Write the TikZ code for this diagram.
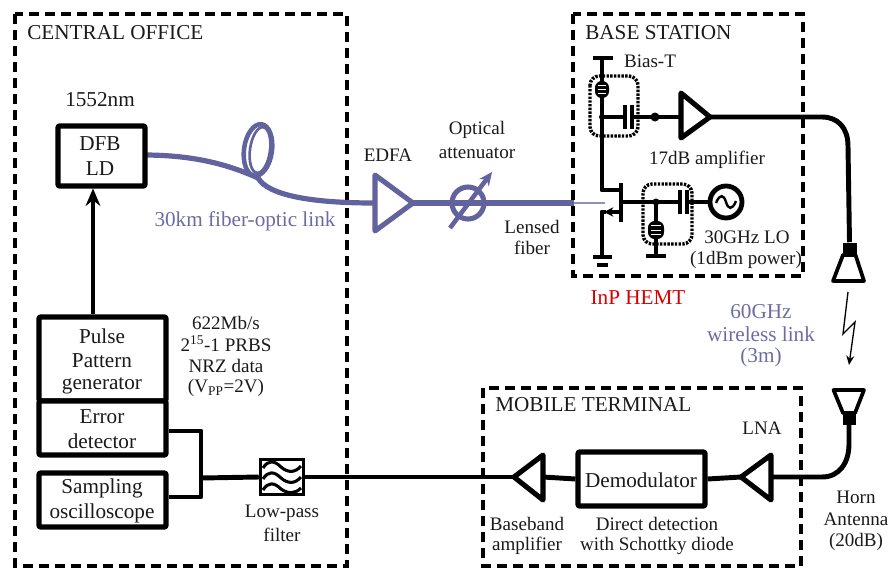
\documentclass[tikz,border=0pt]{standalone}
\usepackage{fontspec}
\setmainfont{Liberation Serif}
\usetikzlibrary{arrows.meta,calc}
\definecolor{fib}{HTML}{62629E}
\definecolor{fibt}{HTML}{6C6CA2}
\definecolor{ink}{HTML}{1A1A1A}
\tikzset{
 x=0.75pt,y=-0.75pt,
 zone/.style={draw=black,line width=2.8pt,dash pattern=on 7.5pt off 4.5pt},
 blk/.style={draw=black,line width=3.8pt,line join=round,fill=white,rounded corners=0.8pt,inner sep=0pt},
 wire/.style={draw=black,line width=3.7pt,line join=round},
 thin wire/.style={draw=black,line width=2.3pt,line join=round},
 fiber/.style={draw=fib,line width=3.9pt,line cap=round},
 dots/.style={draw=black,line width=2.6pt,dash pattern=on 1.8pt off 1pt,rounded corners=7pt},
 lab/.style={font=\fontsize{14.3}{16}\selectfont,text=ink,inner sep=0pt,anchor=center},
 blab/.style={font=\fontsize{15.9}{18}\selectfont,text=ink,inner sep=0pt,anchor=center},
 head/.style={font=\fontsize{15.9}{18}\selectfont,text=ink,inner sep=0pt,anchor=west},
 flab/.style={font=\fontsize{15.9}{18}\selectfont,text=fibt,inner sep=0pt,anchor=center},
 amp/.style={draw=black,line width=3.8pt,line join=round,fill=white},
 term/.style={inner sep=0pt,minimum size=0pt},
}
\begin{document}
\begin{tikzpicture}
\useasboundingbox (0,0) rectangle (889,568);
% zones
\node[term] (coTL) at (15,14) {}; \node[term] (coBR) at (347,566) {};
\node[term] (bsTL) at (573,14) {}; \node[term] (bsBR) at (803,276) {};
\node[term] (mtTL) at (483,388) {}; \node[term] (mtBR) at (801,566) {};
\draw[zone] (coTL) rectangle (coBR);
\draw[zone] (bsTL) rectangle (bsBR);
\draw[zone] (mtTL) rectangle (mtBR);
\node[head] (h1) at (27,33) {CENTRAL OFFICE};
\node[head] (h2) at (585,33) {BASE STATION};
\node[head] (h3) at (495,405) {MOBILE TERMINAL};
% fibre
\coordinate (fs) at (143,155);
\coordinate (cl) at (258,178);
\coordinate (bsin) at (574,203);
\draw[fiber] (fs) .. controls (190,155) and (225,163) .. (cl);
\draw[draw=fib,line width=3.4pt] (258,150) ellipse [x radius=14,y radius=26,rotate=-8];
\draw[draw=fib,line width=2pt] (260,150) ellipse [x radius=10,y radius=23,rotate=-8];
\draw[fiber,line cap=butt] (cl) .. controls (268,195) and (310,203) .. (374,203);
\draw[fiber,line cap=butt] (374,203) -- (bsin);
\draw[draw=fib!70,line width=1pt] (bsin) -- (605,203);
\draw[draw=fib,line width=3.8pt,line join=round,fill=white] (375,175) -- (413,203) -- (375,231) -- cycle;
\draw[draw=fib,line width=3.8pt] (468,203) circle (16);
\draw[draw=fib,line width=3.4pt,-{Stealth[length=10pt,width=9pt]}] (450,228) -- (492,172);
\node[lab] (edfa) at (388,155) {EDFA};
\node[lab] (oa1) at (477,130) {Optical};
\node[lab] (oa2) at (477,153) {attenuator};
\node[flab] (fl) at (245,221) {30km fiber-optic link};
\node[lab] (lf1) at (532,227) {Lensed};
\node[lab] (lf2) at (532,248) {fiber};
% central office blocks
\node[blk,minimum width=0.75*87,minimum height=0.75*60] (dfb) at (101.5,156) {};
\node[blab] (t1) at (100,144) {DFB};
\node[blab] (t2) at (100,169) {LD};
\node[blab] (t3) at (100,100) {1552nm};
\node[blk,minimum width=0.75*127,minimum height=0.75*84] (ppg) at (102.5,359) {};
\node[blk,minimum width=0.75*127,minimum height=0.75*54] (ed) at (102.5,428) {};
\node[blk,minimum width=0.75*127,minimum height=0.75*54] (so) at (102.5,500) {};
\node[blab] at (102,336) {Pulse};
\node[blab] at (102,361) {Pattern};
\node[blab] at (102,386) {generator};
\node[blab] at (102,417) {Error};
\node[blab] at (102,441) {detector};
\node[blab] at (102,488) {Sampling};
\node[blab] at (102,513) {oscilloscope};
\draw[wire,-{Stealth[length=13pt,width=11pt]}] (ppg.north -| 93,0) -- (dfb.south -| 93,0);
\node[lab] at (226,323) {622Mb/s};
\node[lab] at (226,344) {2\textsuperscript{15}-1 PRBS};
\node[lab] at (226,366) {NRZ data};
\node[lab] at (226,388) {(V\textsubscript{PP}=2V)};
% bottom chain
\coordinate (j) at (201,478);
\draw[wire] (ed.east |- 0,431) -- (201,431) -- (201,497) -- (so.east |- 0,497);
\node[draw=black,line width=2.6pt,fill=white,minimum width=0.75*43,minimum height=0.75*35,inner sep=0pt] (lpf) at (282,477) {};
\draw[wire] (j) -- (lpf.west);
\draw[thin wire] (263,468) .. controls (268,460) and (274,460) .. (281,467) .. controls (288,473) and (295,473) .. (301,466);
\draw[thin wire] (263,479) .. controls (268,471) and (274,471) .. (281,478) .. controls (288,484) and (295,484) .. (301,477);
\draw[thin wire] (263,490) .. controls (268,482) and (274,482) .. (281,489) .. controls (288,494) and (295,494) .. (301,488);
\node[lab] at (282,513) {Low-pass};
\node[lab] at (282,535) {filter};
\node[blk,minimum width=0.75*127,minimum height=0.75*54] (dem) at (641.5,479) {};
\node[blab] at (641,480) {Demodulator};
\coordinate (bbt) at (514,477);
\coordinate (lnt) at (741,477);
\draw[wire] (lpf.east) -- (bbt);
\draw[wire] (543,477) -- (dem.west);
\draw[amp] (bbt) -- (543,455) -- (543,500) -- cycle;
\draw[wire] (dem.east) -- (lnt);
\draw[amp] (lnt) -- (771,455) -- (771,500) -- cycle;
\node[lab] at (762,428) {LNA};
\node[lab] at (527,524) {Baseband};
\node[lab] at (527,546) {amplifier};
\node[lab] at (657,524) {Direct detection};
\node[lab] at (657,546) {with Schottky diode};
% lower horn
\node[term,fill=black,minimum width=0.75*13,minimum height=0.75*12] (n2) at (849,418.5) {};
\draw[draw=black,line width=2.8pt,line join=round] (833.5,390) -- (864,390) -- (855,413) -- (843,413) -- cycle;
\draw[wire] (771,477) -- (822,477) .. controls (840,477) and (849,462) .. (849,444) -- (n2.south);
\node[lab] at (856,497) {Horn};
\node[lab] at (856,519) {Antenna};
\node[lab] at (856,542) {(20dB)};
% upper horn
\node[term,fill=black,minimum width=0.75*14,minimum height=0.75*13] (n1) at (849.5,249) {};
\draw[draw=black,line width=2.8pt,line join=round] (843,255) -- (855.5,255) -- (864,281) -- (833,281) -- cycle;
% bolt
\draw[draw=black,line width=1pt,-{Stealth[length=7pt,width=6pt]}] (848,292) -- (843,334) -- (855,322) -- (849,365);
\node[flab] at (761,312) {60GHz};
\node[flab] at (761,334) {wireless link};
\node[flab] at (761,357) {(3m)};
% Bias-T
\draw[dots] (590,76) rectangle (638,136);
\draw[dots] (643,184) rectangle (692,244);
\coordinate (d1) at (602,117);
\coordinate (d2) at (655,117);
\draw[wire] (593,58) -- (613,58);
\draw[wire] (602,58) -- (602,190) -- (621,190);
\draw[thin wire,line width=2.6pt] (d1) -- (625,117);
\draw[wire] (632,117) -- (681,117);
\draw[wire,line width=2.4pt] (625,105) -- (625,129);
\draw[wire,line width=2.4pt] (632,105) -- (632,129);
\fill (d1) circle (3);
\fill (d2) circle (4.5);
\fill[rounded corners=5pt] (595,81) rectangle (609,98);
\foreach \yy in {85.5,89.5,93.5} \draw[white,line width=0.7pt] (598,\yy) -- (606,\yy);
% 17 dB amp and output
\coordinate (t17) at (710,117);
\draw[amp] (t17) -- (681,93) -- (681,138) -- cycle;
\draw[wire] (t17) -- (822,117) .. controls (838,117) and (848,128) .. (848,146) -- (n1.north);
\node[lab] at (650,61) {Bias-T};
\node[lab] at (707,160) {17dB amplifier};
% transistor
\draw[wire] (621,183) -- (621,222);
\draw[wire,-{Stealth[length=7pt,width=7pt]}] (621,212) -- (604,212);
\draw[wire] (606,212) -- (602,212) -- (602,257);
\draw[wire] (593,257) -- (612,257);
\draw[wire] (597,265) -- (608,265);
\coordinate (d3) at (656,202);
\node[draw=black,line width=3.6pt,circle,minimum size=0.75*32,inner sep=0pt] (lo) at (726,202) {};
\draw[thin wire,line width=2.6pt] (621,202) -- (680,202);
\draw[wire] (687,202) -- (lo.west);
\draw[wire,line width=2.4pt] (680,190) -- (680,214);
\draw[wire,line width=2.4pt] (687,190) -- (687,214);
\fill (d3) circle (3.5);
\draw[thin wire,line width=2.6pt] (d3) -- (656,256);
\draw[wire] (646,256) -- (666,256);
\fill[rounded corners=5pt] (648,221) rectangle (664,239);
\foreach \yy in {225.5,230,234.5} \draw[white,line width=0.7pt] (651,\yy) -- (661,\yy);
\draw[draw=black,line width=1.8pt] (716,203) .. controls (720,193) and (724,195) .. (726,202) .. controls (728,209) and (732,211) .. (736,201);
\node[lab] at (747,237) {30GHz LO};
\node[lab] at (746,260) {(1dBm power)};
\node[font=\fontsize{15.9}{18}\selectfont,text=red!85!black,inner sep=0pt] (inp) at (638,298) {InP HEMT};
\end{tikzpicture}
\end{document}
